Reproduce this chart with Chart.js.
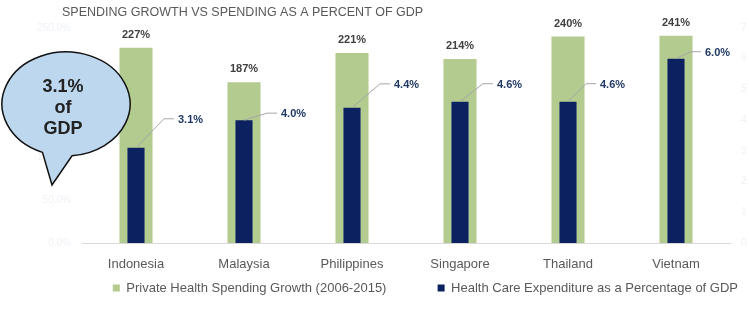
<!DOCTYPE html>
<html>
<head>
<meta charset="utf-8">
<script src="https://cdn.jsdelivr.net/npm/chart.js"></script>
<style>
  html, body { margin: 0; padding: 0; background: #fff; }
  #wrap { width: 749px; height: 310px; }
</style>
</head>
<body>
<div id="wrap"><canvas id="growthChart" width="749" height="310"></canvas></div>
<script>
/* datos */
const countries = ["Indonesia", "Malaysia", "Philippines", "Singapore", "Thailand", "Vietnam"];
const spendingGrowth = [227, 187, 221, 214, 240, 241];
const gdpShare = [3.1, 4.0, 4.4, 4.6, 4.6, 6.0];
const growthMax = 250;
const gdpMax = 7;

/* desplazamiento de las etiquetas azules (px) */
const gdpLabelShift = [[42, -29], [37, -7], [42, -24], [37, -18], [32, -18], [29, -7]];

const font = "'Liberation Sans', Arial, sans-serif";
const grey = "#595959";

const extras = {
  id: "extras",
  afterDatasetsDraw(chart) {
    const ctx = chart.ctx;
    ctx.save();
    // etiquetas verdes
    ctx.font = "bold 11px " + font;
    ctx.fillStyle = "#404040";
    ctx.textAlign = "center";
    ctx.textBaseline = "middle";
    chart.getDatasetMeta(0).data.forEach((bar, i) => {
      ctx.fillText(spendingGrowth[i] + "%", bar.x, bar.y - 13);
    });
    // etiquetas azules con linea guia
    ctx.textAlign = "left";
    ctx.fillStyle = "#1f3864";
    chart.getDatasetMeta(1).data.forEach((bar, i) => {
      const tx = bar.x + gdpLabelShift[i][0];
      const ty = bar.y + gdpLabelShift[i][1];
      ctx.strokeStyle = "#a6a6a6";
      ctx.lineWidth = 1;
      ctx.beginPath();
      ctx.moveTo(bar.x, bar.y);
      ctx.lineTo(tx - 14, ty);
      ctx.lineTo(tx - 4, ty);
      ctx.stroke();
      ctx.fillText(gdpShare[i].toFixed(1) + "%", tx, ty + 1);
    });
    ctx.restore();
  },
  afterDraw(chart) {
    const ctx = chart.ctx;
    ctx.save();
    // titulo
    ctx.font = "12.5px " + font;
    ctx.fillStyle = grey;
    ctx.textAlign = "left";
    ctx.textBaseline = "middle";
    ctx.fillText("SPENDING GROWTH VS SPENDING AS A PERCENT OF GDP", 62, 13);

    // globo de texto
    ctx.beginPath();
    ctx.ellipse(66, 104, 64, 52, 0, Math.PI * 0.62, Math.PI * 0.47 + Math.PI * 2, false);
    ctx.lineTo(52, 185);
    ctx.closePath();
    ctx.fillStyle = "#bdd7ee";
    ctx.fill();
    ctx.strokeStyle = "#111";
    ctx.lineWidth = 1.5;
    ctx.stroke();
    ctx.fillStyle = "#222";
    ctx.textAlign = "center";
    ctx.font = "bold 18px " + font;
    ctx.fillText("3.1%", 63, 87);
    ctx.fillText("of", 63, 108);
    ctx.fillText("GDP", 63, 129);
    ctx.restore();
  }
};

// leyenda con un hueco vacio entre los dos elementos
function legendItems(chart) {
  const items = Chart.defaults.plugins.legend.labels.generateLabels(chart);
  items.sort((a, b) => a.datasetIndex - b.datasetIndex);
  items.splice(1, 0, {
    text: "      ",
    fillStyle: "rgba(0,0,0,0)",
    strokeStyle: "rgba(0,0,0,0)",
    lineWidth: 0,
    hidden: false,
    datasetIndex: 99,
  });
  return items;
}

const ctx = document.getElementById("growthChart").getContext("2d");
const growthChart = new Chart(ctx, {
  type: "bar",
  data: {
    labels: countries,
    datasets: [
      {
        label: "Private Health Spending Growth (2006-2015)",
        data: spendingGrowth,
        backgroundColor: "#b3cb8f",
        yAxisID: "y",
        barPercentage: 0.306,
        categoryPercentage: 1,
        grouped: false,
        order: 2,
      },
      {
        label: "Health Care Expenditure as a Percentage of GDP",
        data: gdpShare,
        backgroundColor: "#0b2160",
        yAxisID: "y2",
        barPercentage: 0.158,
        categoryPercentage: 1,
        grouped: false,
        order: 1,
      },
    ],
  },
  options: {
    responsive: false,
    animation: false,
    layout: { padding: { top: 28, bottom: 5.5, right: 3 } },
    scales: {
      x: {
        grid: { display: false, drawTicks: false },
        border: { display: true, color: "#d9d9d9", width: 1 },
        ticks: { color: grey, padding: 14, font: { size: 13, family: font } },
        afterFit(scale) { scale.height = 30.5; },
      },
      y: {
        position: "left",
        min: 0,
        max: growthMax,
        grid: { display: false },
        border: { display: false },
        ticks: {
          stepSize: 50,
          color: "#eef1f5",
          font: { size: 10, family: font },
          callback: (v) => v.toFixed(1) + "%",
        },
        afterFit(scale) { scale.width = 82; },
      },
      y2: {
        position: "right",
        min: 0,
        max: gdpMax,
        grid: { display: false },
        border: { display: false },
        ticks: {
          stepSize: 1,
          color: "#eef1f5",
          font: { size: 10, family: font },
          callback: (v) => v.toFixed(1) + "%",
        },
        afterFit(scale) { scale.width = 16; },
      },
    },
    plugins: {
      legend: {
        position: "bottom",
        align: "end",
        onClick: null,
        labels: {
          boxWidth: 7,
          boxHeight: 7,
          padding: 8,
          color: grey,
          font: { size: 13, family: font },
          generateLabels: legendItems,
        },
      },
      tooltip: { enabled: false },
    },
  },
  plugins: [extras],
});
</script>
</body>
</html>
